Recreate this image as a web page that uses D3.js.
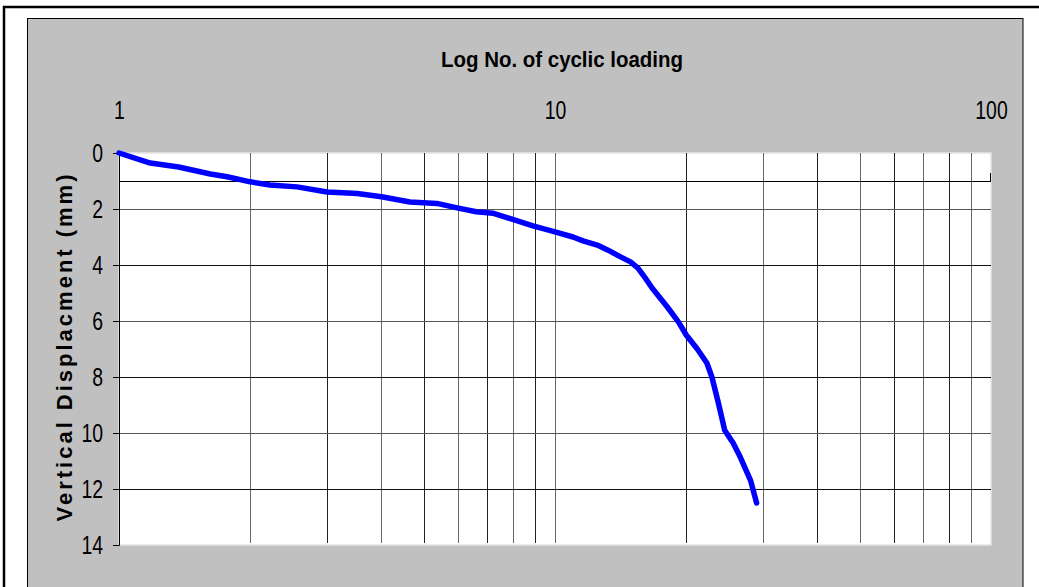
<!DOCTYPE html>
<html>
<head>
<meta charset="utf-8">
<script src="https://cdn.jsdelivr.net/npm/d3@7"></script>
<style>
  body { margin: 0; background: #fff; }
  svg { display: block; }
  text { font-family: "Liberation Sans Narrow", "Arial Narrow", "Liberation Sans", Arial, sans-serif; }
</style>
</head>
<body>
<svg width="1039" height="587"></svg>
<script>
// cycles vs vertical displacement
let cycles = [1, 1.18, 1.37, 1.62, 1.77, 2.0, 2.22, 2.56, 3.0, 3.52, 4.0, 4.65, 5.36, 6.0, 6.6, 7.2, 8.0, 8.9,
              10, 11, 11.6, 12.5, 13.2, 14.1, 14.9, 15.5, 16.1, 16.7, 18.1, 19.2, 20.0, 21.2, 22.3, 22.9, 23.7, 24.5, 25.6, 26.6, 28.1, 29.0];
let displacement = [0, 0.36, 0.5, 0.75, 0.85, 1.03, 1.14, 1.21, 1.39, 1.45, 1.56, 1.75, 1.8, 1.97, 2.1, 2.15, 2.37, 2.6,
              2.82, 3.0, 3.14, 3.29, 3.46, 3.7, 3.89, 4.11, 4.46, 4.82, 5.5, 6.04, 6.5, 7.0, 7.5, 8.0, 8.93, 9.9, 10.35, 10.86, 11.7, 12.5];
let xTicks = [1, 10, 100];
let yTicks = [0, 2, 4, 6, 8, 10, 12, 14];
let xGrid = [2, 3, 4, 5, 6, 7, 8, 9, 10, 20, 30, 40, 50, 60, 70, 80, 90];
let yGrid = [2, 4, 6, 8, 10, 12];

let svg = d3.select('svg');

// outer frame and grey chart area
svg.append('rect').attr('x', 4).attr('y', 7).attr('width', 1060).attr('height', 600)
  .attr('fill', '#fff').attr('stroke', '#000').attr('stroke-width', 2.5);
svg.append('rect').attr('x', 27.5).attr('y', 18.5).attr('width', 995.5).attr('height', 600)
  .attr('fill', '#c0c0c0').attr('stroke', '#000').attr('stroke-width', 1);

let pLeft = 119, pRight = 991, pTop = 153, pBottom = 545;
let x = d3.scaleLog().domain([1, 100]).range([pLeft, pRight]);
let y = d3.scaleLinear().domain([0, 14]).range([pTop, pBottom]);

// plot area
svg.append('rect').attr('x', pLeft).attr('y', pTop).attr('width', pRight - pLeft).attr('height', pBottom - pTop)
  .attr('fill', '#fff').attr('stroke', '#e4e4e4').attr('stroke-width', 1.5);

let grid = svg.append('g').attr('shape-rendering', 'crispEdges');
grid.selectAll('.vg').data(xGrid).enter().append('line')
  .attr('x1', d => Math.round(x(d)) + 0.5).attr('x2', d => Math.round(x(d)) + 0.5)
  .attr('y1', pTop).attr('y2', pBottom - 2)
  .attr('stroke', (d, i) => i % 2 ? '#222' : '#666').attr('stroke-width', 1.2);
grid.selectAll('.hg').data(yGrid).enter().append('line')
  .attr('x1', pLeft).attr('x2', pRight)
  .attr('y1', d => Math.round(y(d)) + 0.5).attr('y2', d => Math.round(y(d)) + 0.5)
  .attr('stroke', (d, i) => i % 2 ? '#111' : '#555').attr('stroke-width', 1.2);

// horizontal axis line sits at 1 mm, with its end tick
grid.append('line').attr('x1', pLeft).attr('x2', pRight).attr('y1', y(1) + 0.5).attr('y2', y(1) + 0.5)
  .attr('stroke', '#000');
grid.append('line').attr('x1', pRight - 0.5).attr('x2', pRight - 0.5).attr('y1', y(1) - 8).attr('y2', y(1))
  .attr('stroke', '#000');

// narrow digits like the original
function squeeze(sel) {
  sel.attr('font-size', 26).attr('fill', '#000').attr('font-family', null)
    .attr('lengthAdjust', 'spacingAndGlyphs')
    .attr('textLength', function() { return this.textContent.length * 10.8; });
}

// left axis
let yAxis = svg.append('g').attr('transform', `translate(${pLeft},0)`)
  .call(d3.axisLeft(y).tickValues(yTicks).tickSize(6).tickPadding(10).tickFormat(d3.format('d')));
yAxis.select('.domain').attr('stroke', '#000');
yAxis.selectAll('text').call(squeeze);

// top axis labels (no ticks)
let xAxis = svg.append('g').attr('transform', `translate(0,${pTop})`)
  .call(d3.axisTop(x).tickValues(xTicks).tickSize(0).tickPadding(34).tickFormat(d3.format('d')));
xAxis.select('.domain').remove();
xAxis.selectAll('text').call(squeeze);

// the curve
let pts = cycles.map((c, i) => [c, displacement[i]]);
svg.append('path').datum(pts)
  .attr('d', d3.line().x(d => x(d[0])).y(d => y(d[1])))
  .attr('fill', 'none').attr('stroke', '#0000ff').attr('stroke-width', 5.5)
  .attr('stroke-linejoin', 'round').attr('stroke-linecap', 'round');

// titles
svg.append('text').attr('x', 562).attr('y', 67).attr('text-anchor', 'middle')
  .attr('font-size', 22).attr('font-weight', 'bold')
  .attr('textLength', 242).attr('lengthAdjust', 'spacingAndGlyphs')
  .text('Log No. of cyclic loading');
svg.append('text').attr('transform', 'translate(72,348) rotate(-90)').attr('text-anchor', 'middle')
  .attr('font-size', 22).attr('font-weight', 'bold')
  .attr('textLength', 347).attr('lengthAdjust', 'spacing')
  .text('Vertical Displacment (mm)');
</script>
</body>
</html>
